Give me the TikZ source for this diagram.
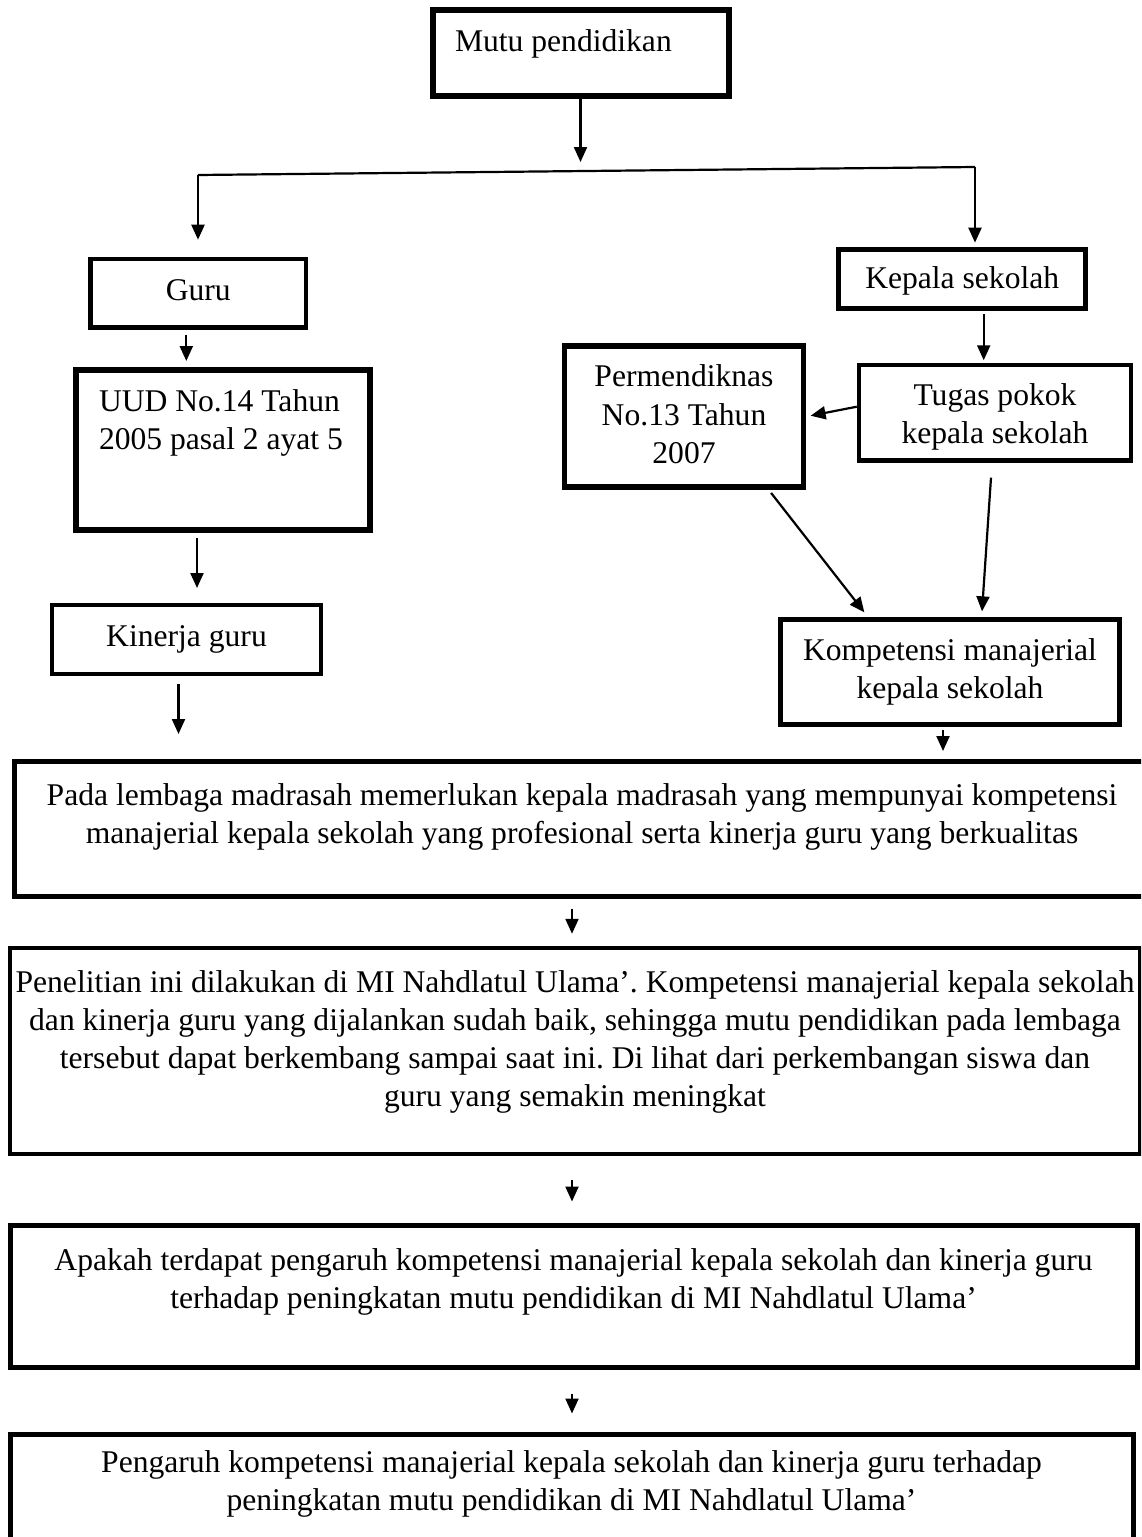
\documentclass[tikz,border=0pt]{standalone}
\usepackage{fontspec}
\setmainfont{Liberation Serif}
\usetikzlibrary{arrows.meta}
\begin{document}
\begin{tikzpicture}[x=1pt,y=-1pt,
  kotak/.style={draw=black,rectangle,inner xsep=0pt,inner ysep=0pt,align=flush center,
    font=\fontsize{31.6}{38.3}\selectfont\frenchspacing,text height=21pt,line width=4.5pt},
  panah/.style={-{Triangle[width=13pt,length=15pt]},line width=2.2pt},
  garis/.style={line width=2.2pt}]
  \useasboundingbox (0,0) rectangle (1141,1537);
  \clip (0,0) rectangle (1141,1537);
  \node[kotak,line width=6pt,align=flush left,inner xsep=22.5pt,text width=251pt,
    minimum width=296pt,minimum height=86pt,text depth=22.6pt]
    (mutu) at (580.5,52.5) {Mutu pendidikan};
  \node[kotak,text width=215.5pt,minimum width=215.5pt,minimum height=68.5pt,
    text depth=7.4pt] (guru) at (198.3,293.2) {Guru};
  \node[kotak,line width=6pt,align=flush left,inner xsep=23pt,text width=248pt,
    minimum width=294pt,minimum height=160pt,text depth=99pt]
    (uud) at (223,450) {UUD No.14 Tahun\\2005 pasal 2 ayat 5};
  \node[kotak,line width=4pt,text width=269pt,minimum width=269pt,minimum height=69pt,
    text depth=6.6pt] (kinerja) at (186.5,639.5) {Kinerja guru};
  \node[kotak,line width=5pt,text width=247pt,minimum width=247pt,minimum height=59.3pt,
    text depth=2pt] (kepala) at (962.2,278.8) {Kepala sekolah};
  \node[kotak,text width=272pt,minimum width=272pt,minimum height=95.4pt,
    text depth=36.4pt] (tugas) at (995,412.7) {Tugas pokok\\kepala sekolah};
  \node[kotak,line width=5.5pt,text width=238.7pt,minimum width=238.7pt,
    minimum height=141.2pt,text depth=80.8pt]
    (permen) at (684,416.6) {Permendiknas\\No.13 Tahun\\2007};
  \node[kotak,text width=338.8pt,minimum width=338.8pt,minimum height=104.8pt,
    text depth=45pt] (kompetensi) at (950,672) {Kompetensi manajerial\\kepala sekolah};
  \node[kotak,line width=5pt,text width=1136pt,minimum width=1136pt,
    minimum height=134.5pt,text depth=68.5pt] (madrasah) at (582,828.75)
    {Pada lembaga madrasah memerlukan kepala madrasah yang mempunyai kompetensi\\
     manajerial kepala sekolah yang profesional serta kinerja guru yang berkualitas};
  \node[kotak,text width=1130pt,minimum width=1130pt,minimum height=206pt,
    text depth=139pt] (penelitian) at (575,1051)
    {Penelitian ini dilakukan di MI Nahdlatul Ulama’. Kompetensi manajerial kepala sekolah\\
     dan kinerja guru yang dijalankan sudah baik, sehingga mutu pendidikan pada lembaga\\
     tersebut dapat berkembang sampai saat ini. Di lihat dari perkembangan siswa dan\\
     guru yang semakin meningkat};
  \node[kotak,line width=5pt,text width=1127pt,minimum width=1127pt,
    minimum height=142pt,text depth=73pt] (rumusan) at (573.5,1296)
    {Apakah terdapat pengaruh kompetensi manajerial kepala sekolah dan kinerja guru\\
     terhadap peningkatan mutu pendidikan di MI Nahdlatul Ulama’};
  \node[kotak,line width=5pt,text width=1123pt,minimum width=1123pt,
    minimum height=146pt,text depth=91pt] (judul) at (571.5,1507)
    {Pengaruh kompetensi manajerial kepala sekolah dan kinerja guru terhadap\\
     peningkatan mutu pendidikan di MI Nahdlatul Ulama’};
  \coordinate (cabang) at (580.5,162);
  \coordinate (kiri) at (198,175);
  \coordinate (kanan) at (975,167);
  \draw[panah] (mutu.south) -- (cabang);
  \draw[garis] (kiri) -- (kanan);
  \draw[panah,shorten >=17pt] (kiri) -- (kiri |- guru.north);
  \draw[panah,shorten >=4pt] (kanan) -- (kanan |- kepala.north);
  \draw[panah,shorten <=5pt,shorten >=6pt] ([xshift=-12pt]guru.south)
    -- ([xshift=-12pt]guru.south |- uud.north);
  \draw[panah,shorten <=5pt,shorten >=15pt] ([xshift=-26pt]uud.south)
    -- ([xshift=-26pt]uud.south |- kinerja.north);
  \draw[panah,shorten <=8pt,shorten >=25pt] ([xshift=-8pt]kinerja.south)
    -- ([xshift=-8pt]kinerja.south |- madrasah.north);
  \draw[panah,shorten <=3pt,shorten >=2.5pt] ([xshift=21.5pt]kepala.south)
    -- ([xshift=21.5pt]kepala.south |- tugas.north);
  \draw[panah,shorten >=4.6pt] ([yshift=6pt]tugas.west) -- (permen.east);
  \draw[panah] ([xshift=-35pt,yshift=-3pt]permen.south east)
    -- ([xshift=86pt,yshift=5pt]kompetensi.north west);
  \draw[panah] ([xshift=-4pt,yshift=-15pt]tugas.south)
    -- ([xshift=32pt,yshift=6pt]kompetensi.north);
  \draw[panah,shorten <=3pt,shorten >=8pt] ([xshift=-7pt]kompetensi.south)
    -- ([xshift=-7pt]kompetensi.south |- madrasah.north);
  \draw[panah,shorten <=10pt,shorten >=12pt] ([xshift=-3pt]penelitian.north |- madrasah.south)
    -- ([xshift=-3pt]penelitian.north);
  \draw[panah,shorten <=24pt,shorten >=21pt] ([xshift=-3pt]penelitian.south)
    -- ([xshift=-3pt]penelitian.south |- rumusan.north);
  \draw[panah,shorten <=24pt,shorten >=18pt] ([xshift=-1.5pt]rumusan.south)
    -- ([xshift=-1.5pt]rumusan.south |- judul.north);
\end{tikzpicture}
\end{document}
